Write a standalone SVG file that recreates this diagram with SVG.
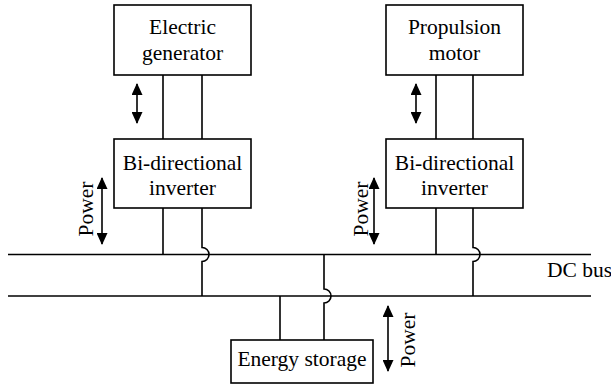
<svg xmlns="http://www.w3.org/2000/svg" width="611" height="385" viewBox="0 0 611 385">
<style>
.box{fill:#fff;stroke:#000;stroke-width:1.6}
.ln{fill:none;stroke:#000;stroke-width:1.6}
.arr{fill:none;stroke:#000;stroke-width:1.6;marker-start:url(#ah);marker-end:url(#ah)}
text{font-family:"Liberation Serif","Times New Roman",serif;font-size:21.5px;fill:#000}
.c{text-anchor:middle}
</style>
<defs>
<marker id="ah" markerUnits="userSpaceOnUse" viewBox="0 0 12 11" refX="11" refY="5.5" markerWidth="12" markerHeight="11" orient="auto-start-reverse">
<path d="M0,0 L12,5.5 L0,11 Z" fill="#000"/>
</marker>
</defs>
<rect width="611" height="385" fill="#fff"/>
<g id="connectors">
<path class="ln" d="M8,254.5 H591"/>
<path class="ln" d="M8,296 H591"/>
<path class="ln" d="M163,75 V139 M202,75 V139"/>
<path class="ln" d="M436,75 V139 M473,75 V139"/>
<path class="ln" d="M163,208 V254.5"/>
<path class="ln" d="M202,208 V247.5 A7,7 0 0 1 202,261.5 V296"/>
<path class="ln" d="M436,208 V254.5"/>
<path class="ln" d="M473,208 V247.5 A7,7 0 0 1 473,261.5 V296"/>
<path class="ln" d="M280,296 V340"/>
<path class="ln" d="M324,254.5 V289 A7,7 0 0 1 324,303 V340"/>
<path class="arr" d="M137,84 V123"/>
<path class="arr" d="M416,84 V123"/>
<path class="arr" d="M102,178 V244"/>
<path class="arr" d="M374,178 V244"/>
<path class="arr" d="M388,306 V371"/>
<text transform="translate(93,209) rotate(-90)" class="c">Power</text>
<text transform="translate(368,209) rotate(-90)" class="c">Power</text>
<text transform="translate(415,340) rotate(-90)" class="c">Power</text>
<text x="547" y="277">DC bus</text>
</g>
<g id="electric-generator">
<rect class="box" x="114" y="5" width="137" height="70"/>
<text x="182.5" y="34" class="c">Electric</text>
<text x="182.5" y="60" class="c">generator</text>
</g>
<g id="propulsion-motor">
<rect class="box" x="386" y="5" width="137" height="70"/>
<text x="454.5" y="34" class="c">Propulsion</text>
<text x="454.5" y="60" class="c">motor</text>
</g>
<g id="inverter-left">
<rect class="box" x="114" y="139" width="137" height="69"/>
<text x="182.5" y="170" class="c">Bi-directional</text>
<text x="182.5" y="195" class="c">inverter</text>
</g>
<g id="inverter-right">
<rect class="box" x="386" y="139" width="137" height="69"/>
<text x="454.5" y="170" class="c">Bi-directional</text>
<text x="454.5" y="195" class="c">inverter</text>
</g>
<g id="energy-storage">
<rect class="box" x="231" y="340" width="142" height="43"/>
<text x="302" y="366" class="c">Energy storage</text>
</g>
</svg>
